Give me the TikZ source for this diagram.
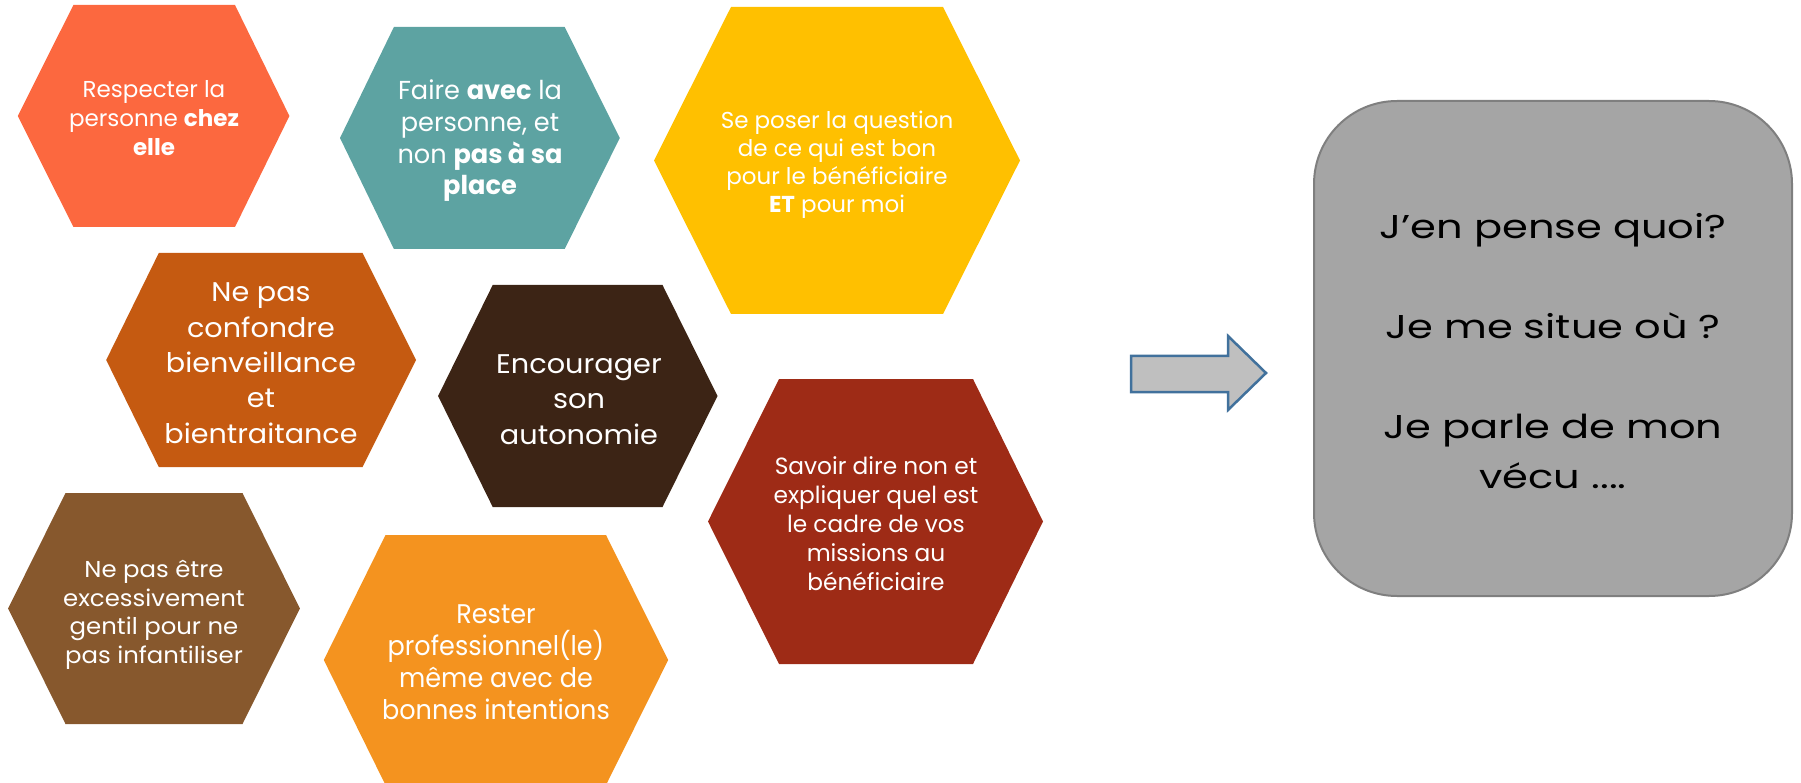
\documentclass[tikz,border=0pt]{standalone}
\usepackage{fontspec}
\setmainfont{Poppins}
\definecolor{cA}{HTML}{FC683F}
\definecolor{cB}{HTML}{5DA3A2}
\definecolor{cC}{HTML}{FFC000}
\definecolor{cD}{HTML}{C55A11}
\definecolor{cE}{HTML}{3C2415}
\definecolor{cF}{HTML}{87582D}
\definecolor{cG}{HTML}{F4931F}
\definecolor{cH}{HTML}{9E2B16}
\definecolor{boxfill}{HTML}{A5A5A5}
\definecolor{boxline}{HTML}{7F7F7F}
\definecolor{arrfill}{HTML}{BFBFBF}
\definecolor{arrline}{HTML}{41719C}
\newcommand{\hexa}[7]{%
  \fill[#1] (#2,{(#6+#7)/2}) -- (#3,#6) -- (#4,#6) -- (#5,{(#6+#7)/2}) -- (#4,#7) -- (#3,#7) -- cycle;}
\newcommand{\hf}[3]{\fontsize{#1}{#2}\selectfont\addfontfeatures{FakeStretch=#3}}
\tikzset{
  hextext/.style={text=white, align=center, anchor=base, inner sep=0pt},
}
\begin{document}
\begin{tikzpicture}[x=1pt,y=-1pt]
\useasboundingbox (0,0) rectangle (1801,783);
% hexagons
\hexa{cA}{17.8}{73.4}{235}{289.4}{5}{227}
\hexa{cB}{340}{393.9}{564.7}{619.8}{27}{249}
\hexa{cC}{654}{731}{943}{1020}{7}{314}
\hexa{cD}{106.2}{158.8}{362.6}{416.1}{253}{467}
\hexa{cE}{438.1}{492.7}{662.5}{717.5}{285}{507}
\hexa{cF}{8.1}{65.5}{242.5}{299.9}{493}{724}
\hexa{cG}{323.8}{385.5}{606}{668.2}{535}{785}
\hexa{cH}{708}{779}{973}{1043}{379}{664}
% texts (anchor base = last line baseline)
\node[hextext, font={\hf{23}{29}{1.0}}] (t1) at (154,156)
  {Respecter la\\personne \textbf{chez}\\\textbf{elle}};
\node[hextext, font={\hf{26}{31.7}{0.985}}] (t2) at (480,195)
  {Faire \textbf{avec} la\\personne, et\\non \textbf{pas à sa}\\\textbf{place}};
\node[hextext, font={\hf{23}{28.3}{1}}] (t3) at (837,213)
  {Se poser la question\\de ce qui est bon\\pour le bénéficiaire\\\textbf{ET} pour moi};
\node[hextext, font={\hf{27}{35.3}{1.06}}] (t4) at (261,443)
  {Ne pas\\confondre\\bienveillance\\et\\bientraitance};
\node[hextext, font={\hf{27}{35.5}{1.065}}] (t5) at (579,444)
  {Encourager\\son\\autonomie};
\node[hextext, font={\hf{23}{28.5}{1.06}}] (t6) at (154,663)
  {Ne pas être\\excessivement\\gentil pour ne\\pas infantiliser};
\node[hextext, font={\hf{27}{32}{0.945}}] (t7) at (496,719)
  {Rester\\professionnel(le)\\même avec de\\bonnes intentions};
\node[hextext, font={\hf{23.5}{28.8}{0.99}}] (t8) at (876,590)
  {Savoir dire non et\\expliquer quel est\\le cadre de vos\\missions au\\bénéficiaire};
% arrow
\draw[arrline, fill=arrfill, line width=2.5pt, line join=miter]
  (1131,356) -- (1228,356) -- (1228,336) -- (1266,373) -- (1228,410) -- (1228,392) -- (1131,392) -- cycle;
% box
\node[draw=boxline, fill=boxfill, line width=2pt, rounded corners=83pt,
  minimum width=478pt, minimum height=495pt, inner sep=0pt] (box) at (1553,348.5) {};
\node[align=center, anchor=base, inner sep=0pt, text=black,
  font={\hf{33}{50}{1.26}}] (q) at (1553,488)
  {J’en pense quoi?\\[50pt]Je me situe où ?\\[50pt]Je parle de mon\\vécu ....};
\end{tikzpicture}
\end{document}
